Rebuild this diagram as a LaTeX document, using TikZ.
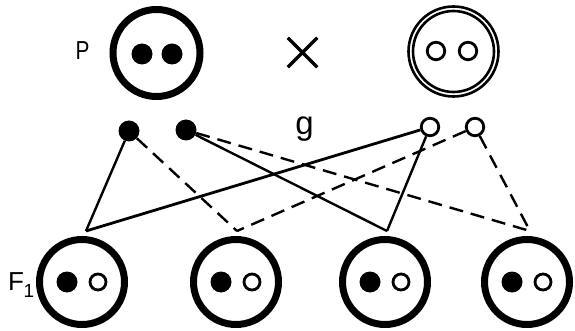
\documentclass[tikz,border=0pt]{standalone}
\usepackage{graphicx}
\usepackage{fontspec}
\setmainfont{Liberation Sans}
\usetikzlibrary{shapes.misc}
\begin{document}
\begin{tikzpicture}[x=1pt,y=-1pt,
  cell/.style={circle,draw,line width=7pt,inner sep=0pt,minimum size=86pt},
  fdot/.style={circle,fill,inner sep=0pt,minimum size=21pt},
  odot/.style={circle,draw,line width=2.8pt,inner sep=0pt,minimum size=17.5pt},
  ring/.style={circle,draw,line width=2.6pt,inner sep=0pt},
  solidlink/.style={line width=2.4pt},
  dashlink/.style={line width=2.4pt,dash pattern=on 14pt off 8pt},
  lbl/.style={inner sep=0pt,font=\fontsize{26}{26}\selectfont}]
\useasboundingbox (0,0) rectangle (575,331);

% parents
\node[cell,minimum size=87pt] (pA) at (156.5,53) {};
\node[fdot] (pA1) at (142,54) {};
\node[fdot] (pA2) at (172,54) {};
\node[ring,minimum size=90pt] (pB) at (453.5,51.5) {};
\node[ring,minimum size=81pt] (pBi) at (453.5,51.5) {};
\node[odot] (pB1) at (436,51) {};
\node[odot] (pB2) at (468,51) {};
\node[cross out,draw,line width=3.5pt,minimum size=26pt,inner sep=0pt] (cross) at (302.5,52.5) {};

% gametes
\node[fdot] (g1) at (129,131) {};
\node[fdot] (g2) at (186,130) {};
\node[odot] (g3) at (430,127) {};
\node[odot] (g4) at (475,127) {};

% junctions
\coordinate (j1) at (86,231);
\coordinate (j2) at (237,231);
\coordinate (j3) at (387,231);
\coordinate (j4) at (530,231);

\draw[solidlink] (g1) -- (j1);
\draw[dashlink] (g1) -- (j2);
\draw[solidlink] (g2) -- (j3);
\draw[dashlink] (g2) -- (j4);
\draw[solidlink,line width=2.8pt] (g3) -- (j1);
\draw[solidlink] (g3) -- (j3);
\draw[dashlink] (g4) -- (j2);
\draw[dashlink] (g4) -- (j4);

% F1
\foreach \i/\x in {1/82,2/236,3/385,4/527}{
  \node[cell,minimum size=85pt] (f\i) at (\x,282) {};
  \node[fdot] (f\i a) at (\x-15,282) {};
  \node[odot,minimum size=16pt] (f\i b) at (\x+16,282) {};
}

% labels
\node[lbl,anchor=base] (lP) at (82.5,60) {\scalebox{0.8}[1]{P}};
\node[inner sep=0pt,anchor=base,font=\fontsize{33}{33}\selectfont] (lg) at (304.5,135) {g};
\node[lbl,anchor=base west] (lF) at (8,290) {F\kern-0.5pt\raisebox{-7pt}{\fontsize{19}{19}\selectfont 1}};
\end{tikzpicture}
\end{document}
